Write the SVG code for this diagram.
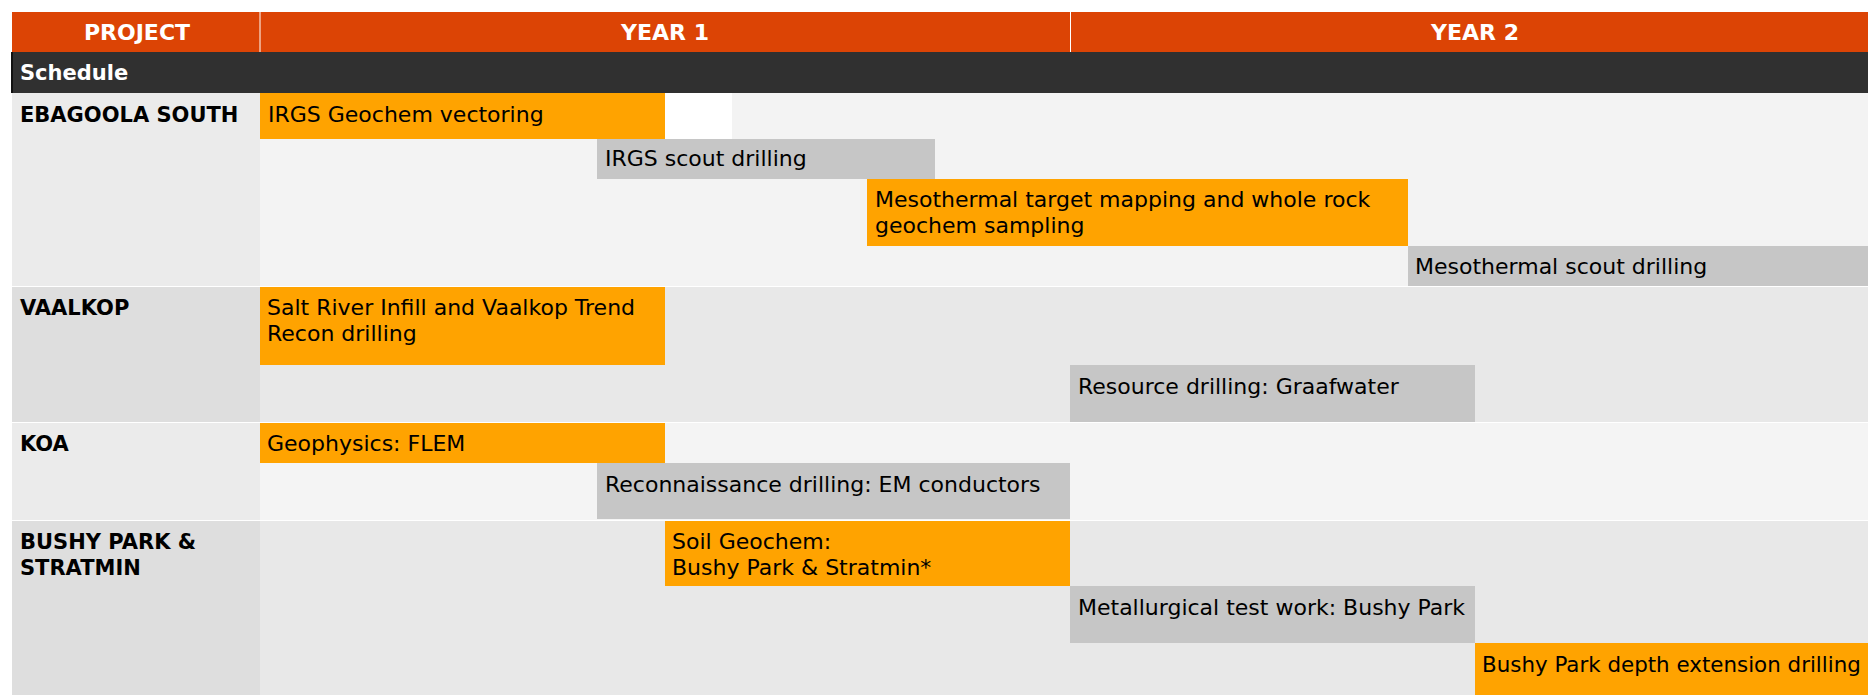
<svg xmlns="http://www.w3.org/2000/svg" width="1868" height="695" viewBox="0 0 1868 695">
<style>
text{font-family:"DejaVu Sans","Noto Sans","Liberation Sans",sans-serif;}
.hd{fill:#fff;font-size:22px;font-weight:700;}
.sc{fill:#fff;font-size:21px;font-weight:700;}
.lbl{fill:#000;font-size:21px;font-weight:700;}
.bt{fill:#000;font-size:22px;}
.or{fill:#FFA300;}
.gr{fill:#C6C6C6;}
</style>
<rect width="1868" height="695" fill="#fff"/>
<g id="header">
<rect x="12" y="12" width="1856" height="40" fill="#DC4405"/>
<line x1="260" y1="12" x2="260" y2="52" stroke="#fff" stroke-width="1"/>
<line x1="1070.5" y1="12" x2="1070.5" y2="52" stroke="#fff" stroke-width="1"/>
<text class="hd" x="137" y="40" text-anchor="middle">PROJECT</text>
<text class="hd" x="665" y="40" text-anchor="middle">YEAR 1</text>
<text class="hd" x="1475" y="40" text-anchor="middle">YEAR 2</text>
</g>
<g id="schedule">
<rect x="11" y="52" width="1857" height="41" fill="#303030"/>
<rect x="11" y="52" width="2" height="41" fill="#111"/>
<text class="sc" x="20" y="80">Schedule</text>
</g>
<g id="rows">
<rect x="12" y="93" width="248" height="193" fill="#EBEBEB"/>
<rect x="260" y="93" width="1608" height="193" fill="#F3F3F3"/>
<rect x="12" y="287" width="248" height="135" fill="#DEDEDE"/>
<rect x="260" y="287" width="1608" height="135" fill="#E8E8E8"/>
<rect x="12" y="423" width="248" height="97" fill="#EBEBEB"/>
<rect x="260" y="423" width="1608" height="97" fill="#F4F4F4"/>
<rect x="12" y="521" width="248" height="174" fill="#DEDEDE"/>
<rect x="260" y="521" width="1608" height="174" fill="#E8E8E8"/>
</g>
<g id="project-ebagoola"><text class="lbl" x="20" y="122">EBAGOOLA SOUTH</text></g>
<g id="project-vaalkop"><text class="lbl" x="20" y="315">VAALKOP</text></g>
<g id="project-koa"><text class="lbl" x="20" y="451">KOA</text></g>
<g id="project-bushy"><text class="lbl" x="20" y="549">BUSHY PARK &amp;</text><text class="lbl" x="20" y="575">STRATMIN</text></g>
<g id="bar-irgs-geochem">
<rect class="or" x="260" y="93" width="405" height="46"/>
<rect x="665" y="93" width="67" height="46" fill="#fff"/>
<text class="bt" x="268" y="122">IRGS Geochem vectoring</text>
</g>
<g id="bar-irgs-scout">
<rect class="gr" x="597" y="139" width="338" height="40"/>
<text class="bt" x="605" y="166">IRGS scout drilling</text>
</g>
<g id="bar-meso-mapping">
<rect class="or" x="867" y="179" width="541" height="67"/>
<text class="bt" x="875" y="207">Mesothermal target mapping and whole rock</text>
<text class="bt" x="875" y="233">geochem sampling</text>
</g>
<g id="bar-meso-scout">
<rect class="gr" x="1408" y="246" width="460" height="40"/>
<text class="bt" x="1415" y="274">Mesothermal scout drilling</text>
</g>
<g id="bar-salt-river">
<rect class="or" x="260" y="287" width="405" height="78"/>
<text class="bt" x="267" y="315">Salt River Infill and Vaalkop Trend</text>
<text class="bt" x="267" y="341">Recon drilling</text>
</g>
<g id="bar-resource">
<rect class="gr" x="1070" y="365" width="405" height="57"/>
<text class="bt" x="1078" y="394">Resource drilling: Graafwater</text>
</g>
<g id="bar-geophysics">
<rect class="or" x="260" y="423" width="405" height="40"/>
<text class="bt" x="267" y="451">Geophysics: FLEM</text>
</g>
<g id="bar-recon">
<rect class="gr" x="597" y="463" width="473" height="56"/>
<text class="bt" x="605" y="492">Reconnaissance drilling: EM conductors</text>
</g>
<g id="bar-soil">
<rect class="or" x="665" y="521" width="405" height="65"/>
<text class="bt" x="672" y="549">Soil Geochem:</text>
<text class="bt" x="672" y="575">Bushy Park &amp; Stratmin*</text>
</g>
<g id="bar-metallurgical">
<rect class="gr" x="1070" y="586" width="405" height="57"/>
<text class="bt" x="1078" y="615">Metallurgical test work: Bushy Park</text>
</g>
<g id="bar-depth">
<rect class="or" x="1475" y="643" width="393" height="52"/>
<text class="bt" x="1482" y="672" style="font-size:21.4px">Bushy Park depth extension drilling</text>
</g>
<g id="connectors"/>
</svg>
